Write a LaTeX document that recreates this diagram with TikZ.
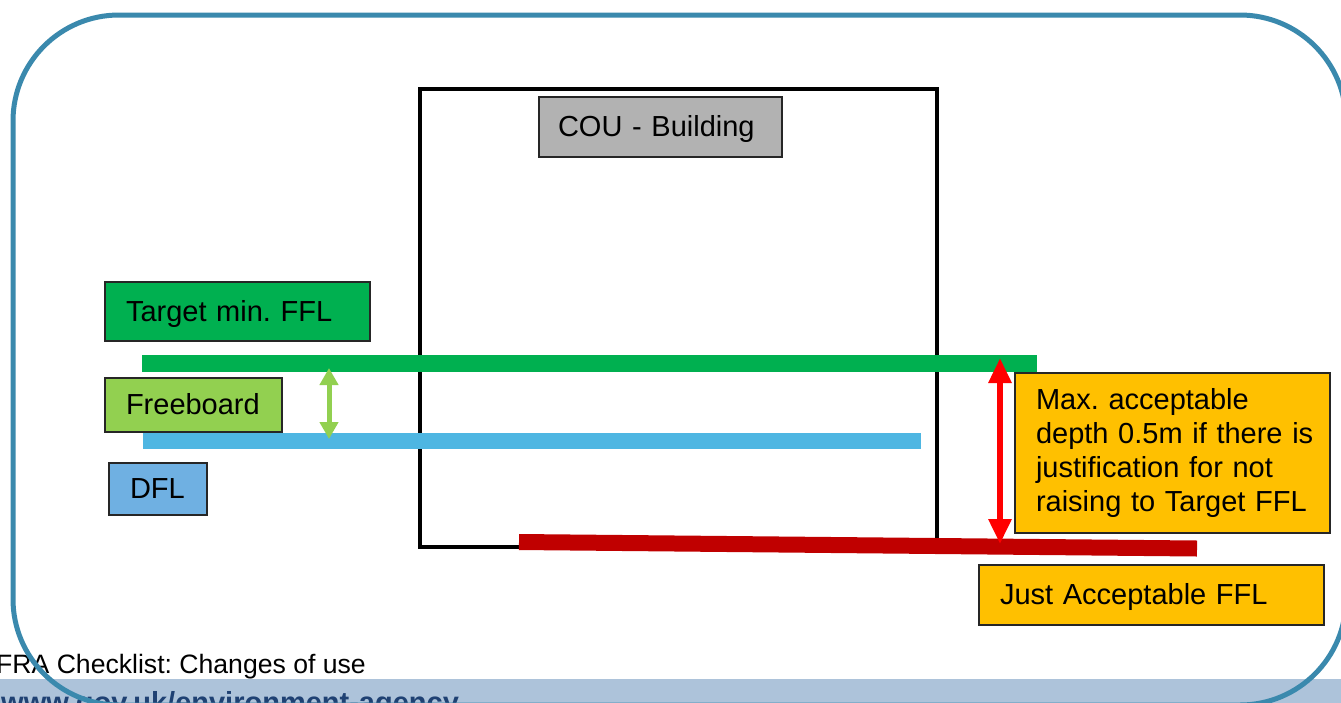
\documentclass[tikz,border=0pt]{standalone}
\usepackage{fontspec}
\setmainfont{Liberation Sans}
\usetikzlibrary{arrows.meta}
\definecolor{frameblue}{HTML}{3A89AD}
\definecolor{barblue}{HTML}{ADC3DA}
\definecolor{wwwblue}{HTML}{1F4173}
\definecolor{ffgreen}{HTML}{00B050}
\definecolor{fbgreen}{HTML}{92D050}
\definecolor{dflblue}{HTML}{4EB6E2}
\definecolor{dflbox}{HTML}{6FB0E2}
\definecolor{ffred}{HTML}{C00000}
\definecolor{arrred}{HTML}{FF0000}
\definecolor{amber}{HTML}{FFC000}
\definecolor{cougray}{HTML}{B2B2B2}
\begin{document}
\begin{tikzpicture}[x=1pt,y=-1pt,
  box/.style={draw=black!85, line width=1.2pt, anchor=north west, inner ysep=0pt,
    outer sep=0pt, inner xsep=21pt, align=left,
    font=\fontsize{29}{34}\selectfont\frenchspacing},
  oneline/.style={text height=25pt, text depth=6pt},
  levelline/.style={line width=#1, line cap=butt},
  fbarrow/.style={fbgreen, line width=5pt,
    {Triangle[width=18pt,length=17pt]}-{Triangle[width=18pt,length=17pt]}},
  redarrow/.style={arrred, line width=6pt,
    {Triangle[width=22pt,length=25pt]}-{Triangle[width=22pt,length=25pt]}}]
\useasboundingbox (0,0) rectangle (1341,702);
\clip (0,0) rectangle (1341,702);
% footer
\fill[barblue] (0,679) rectangle (1341,703);
\node[anchor=base west, inner sep=0pt, font=\fontsize{26.6}{30}\selectfont\frenchspacing] (foot) at (-4,673) {FRA Checklist: Changes of use};
\node[anchor=base west, inner sep=0pt, text=wwwblue, font=\bfseries\fontsize{29}{33}\selectfont] (www) at (1,712) {www.gov.uk/environment-agency};
% frame
\draw[frameblue, line width=5pt, rounded corners=106pt] (13,15) rectangle (1346,705);
% building
\node[draw=black, line width=4.5pt, anchor=north west, outer sep=0pt, minimum width=517pt, minimum height=458pt, inner sep=0pt] (bldg) at (420,89) {};
% level lines
\coordinate (tgtL) at (142,363.5);
\coordinate (tgtR) at (1037,363.5);
\coordinate (dflL) at (143,441);
\coordinate (dflR) at (921,441);
\coordinate (jaL) at (519,542);
\coordinate (jaR) at (1197,548.5);
\draw[levelline=17pt, ffgreen] (tgtL) -- (tgtR);
\draw[levelline=16pt, dflblue] (dflL) -- (dflR);
\draw[levelline=16pt, ffred] (jaL) -- (jaR);
% arrows
\coordinate (fbTop) at (329,368);
\coordinate (fbBot) at (329,439);
\coordinate (maxTop) at (1000,358);
\coordinate (maxBot) at (1000,544);
\draw[fbarrow] (fbTop) -- (fbBot);
\draw[redarrow] (maxTop) -- (maxBot);
% boxes
\node[box, oneline, fill=cougray, inner xsep=19pt, text width=205pt, minimum height=60pt] (cou) at (539,97) {COU - Building};
\node[box, oneline, fill=ffgreen, text width=223pt, minimum height=59pt] (tgt) at (105,282) {Target min. FFL};
\node[box, oneline, fill=fbgreen, text width=135pt, minimum height=54pt] (fb) at (105,378) {Freeboard};
\node[box, oneline, fill=dflbox, text width=56pt, minimum height=52pt] (dfl) at (109,463) {DFL};
\node[box, fill=amber, text width=273pt, minimum height=160pt] (max) at (1015,373) {\mbox{Max. acceptable}\\\mbox{depth 0.5m if there is}\\\mbox{justification for not}\\\mbox{raising to Target FFL}};
\node[box, oneline, fill=amber, text width=303pt, minimum height=60pt] (ja) at (979,565) {Just Acceptable FFL};
\end{tikzpicture}
\end{document}
